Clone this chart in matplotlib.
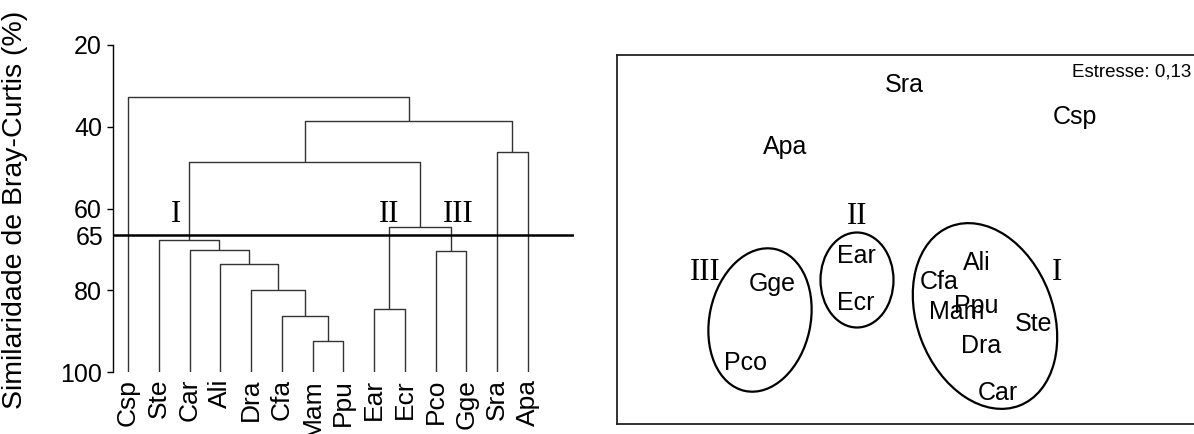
import matplotlib
matplotlib.use("Agg")
from matplotlib import pyplot as plt
from matplotlib.patches import Ellipse
import numpy as np

plt.rcParams['font.family'] = ['Liberation Sans', 'DejaVu Sans']

# dendrogram (Bray-Curtis similarity, %)
leaves = ['Csp', 'Ste', 'Car', 'Ali', 'Dra', 'Cfa', 'Mam', 'Ppu',
          'Ear', 'Ecr', 'Pco', 'Gge', 'Sra', 'Apa']
# merges: node a, node b, similarity  (new nodes numbered from len(leaves))
merge_a = [6, 5, 4, 3, 2, 1, 8, 10, 20, 19, 12, 23, 0]
merge_b = [7, 14, 15, 16, 17, 18, 9, 11, 21, 22, 13, 24, 25]
merge_sim = [92.4, 86.2, 80.0, 73.5, 70.2, 67.7, 84.7, 70.5, 64.5, 48.7, 46.1, 38.7, 32.6]
cut_sim = 66.5
cut_label = '65'
y_ticks = [20, 40, 60, 80, 100]
groups = ['I', 'II', 'III']
group_x = [1.55, 8.5, 10.75]
group_y = [61.5, 61.5, 61.5]

# NMDS ordination
nmds_labels = ['Apa', 'Sra', 'Csp', 'Gge', 'Pco', 'Ear', 'Ecr', 'Ali', 'Cfa',
               'Ppu', 'Mam', 'Ste', 'Dra', 'Car']
nmds_x = [-1.15, 0.04, 1.75, -1.28, -1.55, -0.44, -0.44, 0.77, 0.39,
          0.76, 0.57, 1.34, 0.81, 0.98]
nmds_y = [0.93, 1.55, 1.23, -0.44, -1.23, -0.16, -0.63, -0.23, -0.42,
          -0.66, -0.72, -0.84, -1.06, -1.53]
ell_cx = [0.85, -0.43, -1.40]
ell_cy = [-0.76, -0.40, -0.80]
ell_w = [1.36, 0.73, 1.01]
ell_h = [1.92, 0.95, 1.45]
ell_ang = [21, 0, -12]
num_x = [1.57, -0.43, -1.95]
num_y = [-0.33, 0.23, -0.32]
stress_text = 'Estresse: 0,13'

fig = plt.figure(figsize=(11.94, 4.34), dpi=100)

# ---- left: dendrogram
ax = fig.add_axes([113/1194, 1-372/434, (574-113)/1194, (372-45)/434])
pos = {i: float(i) for i in range(len(leaves))}
hgt = {i: 100.0 for i in range(len(leaves))}
line_kw = dict(color='#333333', lw=1.0, solid_capstyle='butt')
for k, (a, b, s) in enumerate(zip(merge_a, merge_b, merge_sim)):
    n = len(leaves) + k
    ax.plot([pos[a], pos[a], pos[b], pos[b]], [hgt[a], s, s, hgt[b]], **line_kw)
    pos[n] = (pos[a] + pos[b]) / 2
    hgt[n] = s

ax.axhline(cut_sim, color='black', lw=1.8)
for g, gx, gy in zip(groups, group_x, group_y):
    ax.text(gx, gy, g, family='Liberation Serif', fontsize=22,
            ha='center', va='center')

ax.set_xlim(-0.49, 14.5)
ax.set_ylim(100, 20)
ax.set_yticks(y_ticks)
ax.set_yticks([cut_sim], [cut_label], minor=True)
ax.tick_params(axis='y', which='major', length=4, width=1, pad=4, labelsize=18)
ax.tick_params(axis='y', which='minor', length=0, pad=7, labelsize=18)
ax.set_xticks(range(len(leaves)), leaves, rotation=90)
ax.tick_params(axis='x', length=0, pad=5, labelsize=19)
for sp in ['top', 'right', 'bottom']:
    ax.spines[sp].set_visible(False)
ax.spines['left'].set_linewidth(1.0)
ax.set_ylabel('Similaridade de Bray-Curtis (%)', fontsize=20.5)
ax.yaxis.set_label_coords(-0.184, 0.495)

# ---- right: NMDS
ax2 = fig.add_axes([617/1194, 1-424/434, (1194-617)/1194, (424-55)/434])
for lab, x, y in zip(nmds_labels, nmds_x, nmds_y):
    ax2.text(x, y, lab, fontsize=18, ha='center', va='center')
for cx, cy, w, h, an in zip(ell_cx, ell_cy, ell_w, ell_h, ell_ang):
    ax2.add_patch(Ellipse((cx, cy), w, h, angle=an, fill=False,
                          edgecolor='black', lw=1.6))
for g, gx, gy in zip(groups, num_x, num_y):
    ax2.text(gx, gy, g, family='Liberation Serif', fontsize=22,
             ha='center', va='center')
ax2.text(0.995, 0.955, stress_text, transform=ax2.transAxes, fontsize=13.5,
         ha='right', va='center')
ax2.set_xlim(-2.83, 2.94)
ax2.set_ylim(-1.84, 1.85)
ax2.set_xticks([])
ax2.set_yticks([])
ax2.spines['right'].set_visible(False)
for sp in ['top', 'left', 'bottom']:
    ax2.spines[sp].set_linewidth(1.3)
    ax2.spines[sp].set_color('#222222')

plt.savefig('out.png', dpi=100)
